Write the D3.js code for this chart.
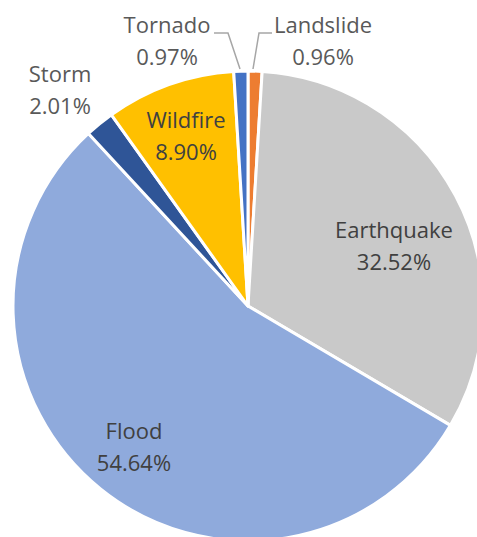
<!DOCTYPE html>
<html>
<head>
<meta charset="utf-8">
<script src="https://cdn.jsdelivr.net/npm/d3@7"></script>
<style>
  html, body { margin: 0; padding: 0; background: #fff; }
  svg { display: block; }
</style>
</head>
<body>
<div id="chart"></div>
<script>
// slices clockwise from 12 o'clock
const categories = ['Landslide', 'Earthquake', 'Flood', 'Storm', 'Wildfire', 'Tornado'];
const shares = [0.96, 32.52, 54.64, 2.01, 8.90, 0.97];
const sliceColors = ['#ED7D31', '#C9C9C9', '#8FAADC', '#2F5597', '#FFC000', '#4472C4'];

const w = 477;
const h = 537;
const cx = 248, cy = 306, r = 235;

// label anchors (centre x, first baseline y) and whether a leader line is drawn
const labelAt = {
  Landslide: { x: 323, y: 33, leader: [[272, 33], [259, 33], [253, 69]] },
  Earthquake: { x: 394, y: 238 },
  Flood: { x: 134, y: 439 },
  Storm: { x: 60, y: 82 },
  Wildfire: { x: 186, y: 128 },
  Tornado: { x: 167, y: 33, leader: [[214, 33], [228, 33], [240, 69]] }
};

const svg = d3.select('#chart')
  .append('svg')
  .attr('width', w)
  .attr('height', h);

const pie = d3.pie()
  .sort(null)
  .value(d => d.value);

const arc = d3.arc()
  .innerRadius(0)
  .outerRadius(r);

const data = categories.map((c, i) => ({ name: c, value: shares[i], color: sliceColors[i] }));

const g = svg.append('g')
  .attr('transform', `translate(${cx},${cy})`);

g.selectAll('path')
  .data(pie(data))
  .enter()
  .append('path')
  .attr('d', arc)
  .attr('fill', d => d.data.color)
  .attr('stroke', '#fff')
  .attr('stroke-width', 3)
  .attr('stroke-linejoin', 'round');

// leader lines
const line = d3.line();
data.forEach(d => {
  const p = labelAt[d.name];
  if (!p.leader) return;
  svg.append('path')
    .attr('d', line(p.leader))
    .attr('fill', 'none')
    .attr('stroke', '#A6A6A6')
    .attr('stroke-width', 1.5);
});

const labels = svg.selectAll('text.lbl')
  .data(data)
  .enter()
  .append('text')
  .attr('class', 'lbl')
  .attr('text-anchor', 'middle')
  .attr('font-family', '"Open Sans", sans-serif')
  .attr('font-size', 22)
  .attr('fill', d => labelAt[d.name].leader || d.name === 'Storm' ? '#595959' : '#404040');

labels.append('tspan')
  .attr('x', d => labelAt[d.name].x)
  .attr('y', d => labelAt[d.name].y)
  .text(d => d.name);

labels.append('tspan')
  .attr('x', d => labelAt[d.name].x)
  .attr('y', d => labelAt[d.name].y + 32)
  .text(d => d.value.toFixed(2) + '%');
</script>
</body>
</html>
